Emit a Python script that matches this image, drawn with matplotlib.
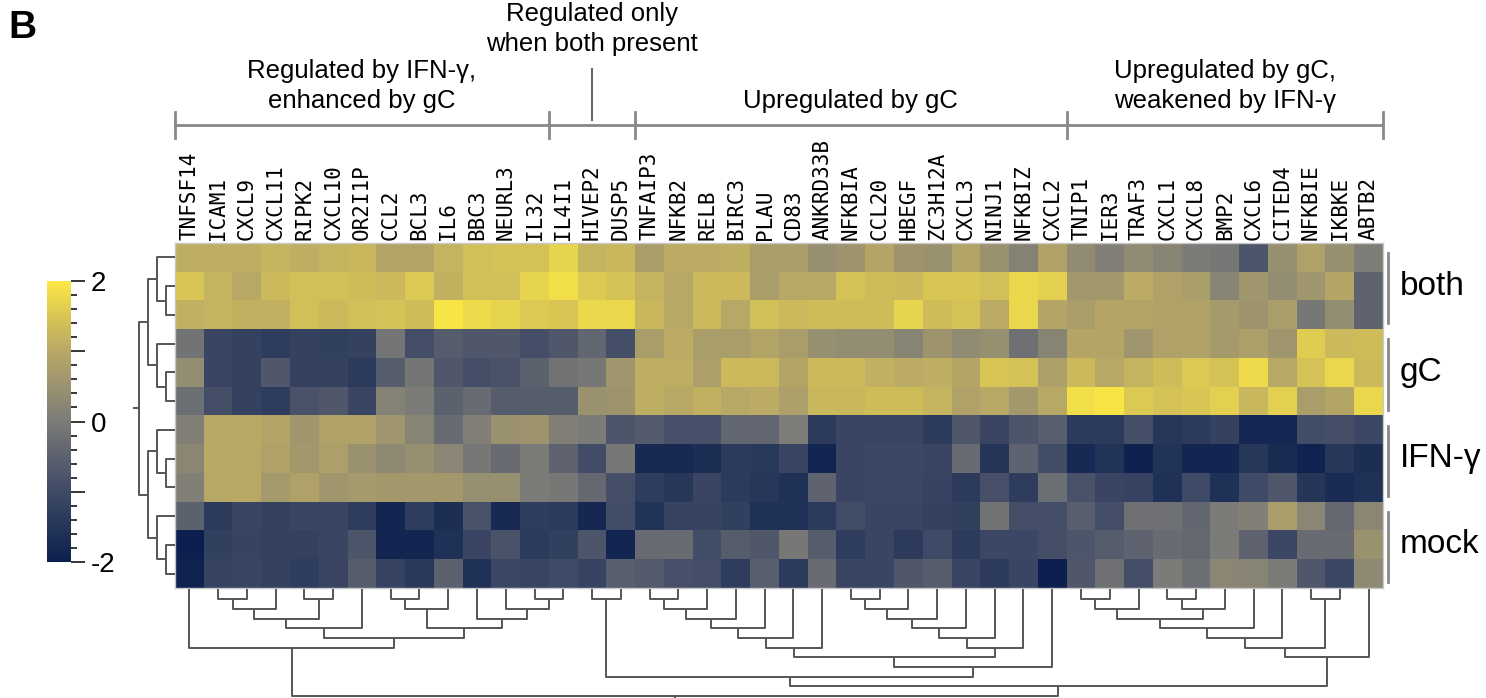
"""
Clustered heatmap of gene expression (z-scores) for mock / IFN-γ / gC / both,
with row and column dendrograms, group brackets and colour bar.
"""
import numpy as np
import matplotlib
matplotlib.use('Agg')
import matplotlib.pyplot as plt
from matplotlib.ticker import FixedLocator
from matplotlib.colors import LinearSegmentedColormap

plt.rcParams['font.family'] = ['Liberation Sans', 'DejaVu Sans']

W, H = 1486, 698  # figure size in px (dpi 100)

# ─── data ────────────────────────────────────────────────
genes = ['TNFSF14', 'ICAM1', 'CXCL9', 'CXCL11', 'RIPK2', 'CXCL10', 'OR2I1P',
         'CCL2', 'BCL3', 'IL6', 'BBC3', 'NEURL3', 'IL32',
         'IL4I1', 'HIVEP2', 'DUSP5',
         'TNFAIP3', 'NFKB2', 'RELB', 'BIRC3', 'PLAU', 'CD83', 'ANKRD33B',
         'NFKBIA', 'CCL20', 'HBEGF', 'ZC3H12A', 'CXCL3', 'NINJ1', 'NFKBIZ', 'CXCL2',
         'TNIP1', 'IER3', 'TRAF3', 'CXCL1', 'CXCL8', 'BMP2', 'CXCL6', 'CITED4',
         'NFKBIE', 'IKBKE', 'ABTB2']

conditions = ['both', 'gC', 'IFN-γ', 'mock']
reps_per_condition = 3

col_group_sizes = [13, 3, 15, 11]
col_group_labels = ['Regulated by IFN-γ,\nenhanced by gC',
                    'Regulated only\nwhen both present',
                    'Upregulated by gC',
                    'Upregulated by gC,\nweakened by IFN-γ']

both_1 = [1.1, 1.1, 1.1, 1.2, 1.1, 1.2, 1.25, 0.9, 0.9, 1.2, 1.4, 1.45, 1.45, 1.7,
          1.2, 1.25, 0.75, 1.05, 1.05, 1.1, 0.75, 0.75, 0.45, 0.55, 0.95, 0.55, 0.5, 0.9,
          0.5, 0.15, 0.85, 0.35, 0.1, 0.35, 0.2, 0.0, -0.05, -0.75, 0.45, 0.85, 0.45, 0.05]
both_2 = [1.5, 1.2, 1.0, 1.3, 1.4, 1.4, 1.35, 1.3, 1.55, 1.15, 1.4, 1.4, 1.7, 1.85,
          1.55, 1.45, 1.2, 1.0, 1.3, 1.3, 0.75, 1.0, 1.0, 1.45, 1.35, 1.3, 1.5, 1.5,
          1.4, 1.75, 1.65, 0.65, 0.65, 1.05, 0.85, 0.75, 0.2, 0.6, 0.4, 0.6, 0.95, -0.45]
both_3 = [1.15, 1.2, 1.15, 1.15, 1.4, 1.3, 1.4, 1.45, 1.35, 1.95, 1.8, 1.7, 1.55, 1.5,
          1.75, 1.75, 1.25, 1.0, 1.3, 1.0, 1.4, 1.3, 1.35, 1.35, 1.35, 1.7, 1.35, 1.45,
          1.05, 1.75, 0.95, 0.75, 0.95, 0.9, 0.85, 0.85, 0.7, 0.55, 0.75, -0.05, 0.4, -0.45]
gC_1 = [-0.15, -1.1, -1.2, -1.3, -1.2, -1.25, -1.2, -0.1, -0.9, -0.6, -0.7, -0.7, -0.9, -0.7,
        -0.4, -0.9, 0.75, 1.05, 0.75, 0.75, 0.9, 0.75, 0.45, 0.4, 0.4, 0.2, 0.55, 0.35,
        0.45, -0.2, 0.2, 0.95, 0.95, 0.6, 0.85, 0.85, 0.7, 0.8, 0.6, 1.6, 1.3, 1.35]
gC_2 = [0.4, -1.1, -1.2, -0.7, -1.2, -1.2, -1.35, -0.6, -0.1, -0.7, -0.9, -0.8, -0.5, -0.15,
        -0.05, 0.6, 1.1, 1.1, 0.8, 1.3, 1.3, 0.95, 1.3, 1.3, 1.15, 1.05, 1.1, 0.95,
        1.5, 1.45, 0.8, 1.3, 1.0, 1.2, 1.35, 1.55, 1.45, 1.8, 1.0, 1.45, 1.75, 1.3]
gC_3 = [-0.25, -0.9, -1.2, -1.3, -0.8, -0.7, -1.1, 0.15, 0.0, -0.5, -0.3, -0.6, -0.6, -0.6,
        0.5, 0.55, 1.1, 1.0, 1.15, 1.0, 1.05, 0.8, 1.25, 1.25, 1.35, 1.35, 1.2, 0.85,
        1.0, 0.65, 1.0, 1.85, 1.95, 1.55, 1.45, 1.5, 1.65, 1.25, 1.65, 0.75, 0.9, 1.75]
ifng_1 = [0.1, 1.0, 1.0, 0.9, 0.6, 0.85, 0.85, 0.6, 0.2, -0.3, 0.1, 0.5, 0.55, 0.1,
          0.0, -0.75, -0.65, -0.85, -0.85, -0.4, -0.4, 0.05, -1.35, -1.1, -1.1, -1.1, -1.35, -0.7,
          -1.1, -0.75, -0.55, -1.35, -1.35, -0.9, -1.45, -1.35, -1.2, -1.8, -1.8, -0.95, -0.9, -1.05]
ifng_2 = [0.25, 1.0, 1.0, 0.85, 0.65, 0.8, 0.5, 0.3, 0.45, 0.25, -0.05, -0.3, 0.0, -0.45,
          -0.95, -0.05, -1.75, -1.75, -1.65, -1.35, -1.4, -1.1, -1.85, -1.1, -1.05, -1.05, -1.1, -0.3,
          -1.5, -0.45, -0.95, -1.75, -1.55, -1.95, -1.55, -1.85, -1.85, -1.45, -1.7, -1.9, -1.45, -1.65]
ifng_3 = [0.1, 1.0, 1.0, 0.7, 0.85, 0.6, 0.7, 0.65, 0.65, 0.65, 0.45, 0.45, 0.0, -0.05,
          -0.35, -0.9, -1.3, -1.45, -1.1, -1.35, -1.45, -1.6, -0.45, -1.1, -1.05, -1.05, -1.15, -1.35,
          -0.85, -1.3, -0.25, -0.8, -1.1, -1.15, -1.6, -1.0, -1.6, -1.0, -0.7, -1.5, -1.7, -1.6]
mock_1 = [-0.5, -1.35, -1.1, -1.2, -1.1, -1.1, -1.3, -1.85, -1.3, -1.65, -0.8, -1.75, -1.3, -1.35,
          -1.8, -0.95, -1.55, -1.15, -1.15, -1.25, -1.6, -1.6, -1.35, -0.95, -1.1, -1.1, -1.2, -1.25,
          -0.15, -0.9, -0.9, -0.55, -0.9, -0.2, -0.2, -0.4, 0.0, 0.1, 0.75, 0.25, -0.35, 0.25]
mock_2 = [-2.0, -1.25, -1.15, -1.2, -1.2, -1.1, -0.75, -1.85, -1.85, -1.6, -1.1, -0.8, -1.35, -1.25,
          -0.75, -1.85, -0.3, -0.3, -0.95, -0.6, -0.7, -0.05, -0.6, -1.3, -1.1, -1.35, -1.0, -1.35,
          -1.05, -1.05, -0.9, -0.75, -0.6, -0.45, -0.3, -0.35, 0.0, -0.45, -1.05, -0.3, -0.3, 0.5]
mock_3 = [-1.9, -1.15, -1.1, -1.2, -1.3, -1.1, -0.6, -1.15, -1.4, -0.5, -1.6, -1.05, -1.1, -1.0,
          -1.15, -0.55, -0.65, -0.85, -0.9, -1.3, -0.55, -1.35, -0.3, -1.1, -1.1, -0.7, -0.6, -1.1,
          -1.35, -1.1, -2.0, -0.7, -0.2, -0.9, 0.0, -0.25, 0.25, 0.2, 0.0, -0.7, -1.05, 0.3]

# dendrogram merges: (child_a, child_b, level); ids >= n are earlier merges
col_merges = [(1, 2, 1), (42, 3, 2), (4, 5, 1), (43, 44, 3), (45, 6, 4),
              (7, 8, 1), (47, 9, 2), (12, 13, 1), (11, 49, 2), (10, 50, 3),
              (48, 51, 4), (46, 52, 5), (0, 53, 6),
              (14, 15, 1), (16, 17, 1), (56, 18, 2), (57, 19, 3), (58, 20, 4),
              (59, 21, 5), (60, 22, 6), (23, 24, 1), (62, 25, 2), (63, 26, 3),
              (64, 27, 4), (65, 28, 5), (66, 29, 6), (61, 67, 7), (68, 30, 8),
              (55, 69, 9),
              (31, 32, 1), (71, 33, 2), (34, 35, 1), (73, 36, 2), (72, 74, 3),
              (75, 37, 4), (76, 38, 5), (39, 40, 1), (77, 78, 6), (79, 41, 7),
              (70, 80, 10), (54, 81, 11)]
row_merges = [(1, 2, 1), (0, 12, 2), (4, 5, 1), (3, 14, 2), (13, 15, 3),
              (7, 8, 1), (6, 17, 2), (10, 11, 1), (9, 19, 2), (18, 20, 3),
              (16, 21, 4)]

values = np.array([both_1, both_2, both_3, gC_1, gC_2, gC_3,
                   ifng_1, ifng_2, ifng_3, mock_1, mock_2, mock_3])
n_rows, n_cols = values.shape

# muted cividis-like ramp, navy → grey → yellow
cmap = LinearSegmentedColormap.from_list('muted_cividis', [
    '#0c1f4e', '#253659', '#3f4a66', '#5c616e', '#7b7b78',
    '#9a9270', '#b8a866', '#d8c555', '#fde845'])


# ─── layout helpers ──────────────────────────────────────
def px_rect(x0, y0, x1, y1):
    """pixel box (top-left origin) → figure fraction rect."""
    return [x0 / W, 1 - y1 / H, (x1 - x0) / W, (y1 - y0) / H]


def draw_dendro(ax, merges, n, vertical, color='#555555', lw=1.4):
    pos = {i: i + 0.5 for i in range(n)}
    hgt = {i: 0.0 for i in range(n)}
    for k, (a, b, h) in enumerate(merges):
        xs = [pos[a], pos[a], pos[b], pos[b]]
        ys = [hgt[a], h, h, hgt[b]]
        if vertical:
            ax.plot(ys, xs, color=color, lw=lw, clip_on=False, solid_capstyle='butt')
        else:
            ax.plot(xs, ys, color=color, lw=lw, clip_on=False, solid_capstyle='butt')
        pos[n + k] = (pos[a] + pos[b]) / 2
        hgt[n + k] = h
    root = n + len(merges) - 1
    return pos[root], hgt[root]


HM_L, HM_T, HM_R, HM_B = 175, 243, 1383, 588
col_w = (HM_R - HM_L) / n_cols
row_h = (HM_B - HM_T) / n_rows

fig = plt.figure(figsize=(W / 100, H / 100), dpi=100)

# ─── heatmap ─────────────────────────────────────────────
ax = fig.add_axes(px_rect(HM_L, HM_T, HM_R, HM_B))
im = ax.imshow(values, cmap=cmap, vmin=-2, vmax=2, aspect='auto',
               interpolation='nearest', extent=(0, n_cols, n_rows, 0))
ax.xaxis.tick_top()
ax.set_xticks(np.arange(n_cols) + 0.5)
ax.set_xticklabels(genes, rotation=90, fontsize=15, family='DejaVu Sans Mono')
ax.tick_params(axis='x', length=0, pad=2)
ax.set_yticks([])
for s in ax.spines.values():
    s.set_color('#c8c8c8')
    s.set_linewidth(1)

# ─── column dendrogram (below) ───────────────────────────
axc = fig.add_axes(px_rect(HM_L, HM_B, HM_R, H))
rx, rh = draw_dendro(axc, col_merges, n_cols, vertical=False)
axc.plot([rx, rx], [rh, rh + 0.3], color='#555555', lw=1.4, clip_on=False)
axc.set_xlim(0, n_cols)
axc.set_ylim(11.2, -0.15)
axc.axis('off')

# ─── row dendrogram (left) ───────────────────────────────
axr = fig.add_axes(px_rect(125, HM_T, HM_L, HM_B))
ry, rl = draw_dendro(axr, row_merges, n_rows, vertical=True)
axr.plot([rl, rl + 0.55], [ry, ry], color='#555555', lw=1.4, clip_on=False)
axr.set_ylim(n_rows, 0)
axr.set_xlim(50 / 9, 0)
axr.axis('off')

# ─── colour bar ──────────────────────────────────────────
cax = fig.add_axes(px_rect(47, 281, 71, 562))
cb = fig.colorbar(im, cax=cax)
cb.outline.set_visible(False)
cb.set_ticks([-2, -1, 0, 1, 2])
cb.set_ticklabels(['-2', '', '0', '', '2'])
cax.yaxis.set_minor_locator(FixedLocator(np.arange(-2, 2.01, 0.2)))
cax.tick_params(which='major', length=10, width=1.1, labelsize=20, pad=4)
cax.tick_params(which='minor', length=4, width=1.1)

# ─── overlay: brackets, group titles, row labels ─────────
ov = fig.add_axes([0, 0, 1, 1])
ov.set_xlim(0, W)
ov.set_ylim(H, 0)
ov.axis('off')

br_col = '#888888'
bounds = np.concatenate([[0], np.cumsum(col_group_sizes)])
bx = HM_L + bounds * col_w
ov.plot([bx[0], bx[-1]], [125, 125], color=br_col, lw=2)
for x in bx:
    ov.plot([x, x], [112, 138], color=br_col, lw=2)

centers = (bx[:-1] + bx[1:]) / 2
label_y = [86, 29, 101, 86]
for cx, ly, lab in zip(centers, label_y, col_group_labels):
    ov.text(cx, ly, lab, ha='center', va='center', fontsize=18.5, linespacing=1.3)
# pointer for the narrow middle group
ov.plot([centers[1], centers[1]], [69, 120], color='#666666', lw=1.5)

for i, cond in enumerate(conditions):
    top = HM_T + i * reps_per_condition * row_h
    bot = top + reps_per_condition * row_h
    ov.plot([1388, 1388], [top + 10, bot - 6], color=br_col, lw=2)
    ov.text(1400, (top + bot) / 2, cond, ha='left', va='center', fontsize=24)

ov.text(8, 38, 'B', fontsize=28, fontweight='bold', ha='left', va='baseline')

fig.savefig('out.png', dpi=100)
